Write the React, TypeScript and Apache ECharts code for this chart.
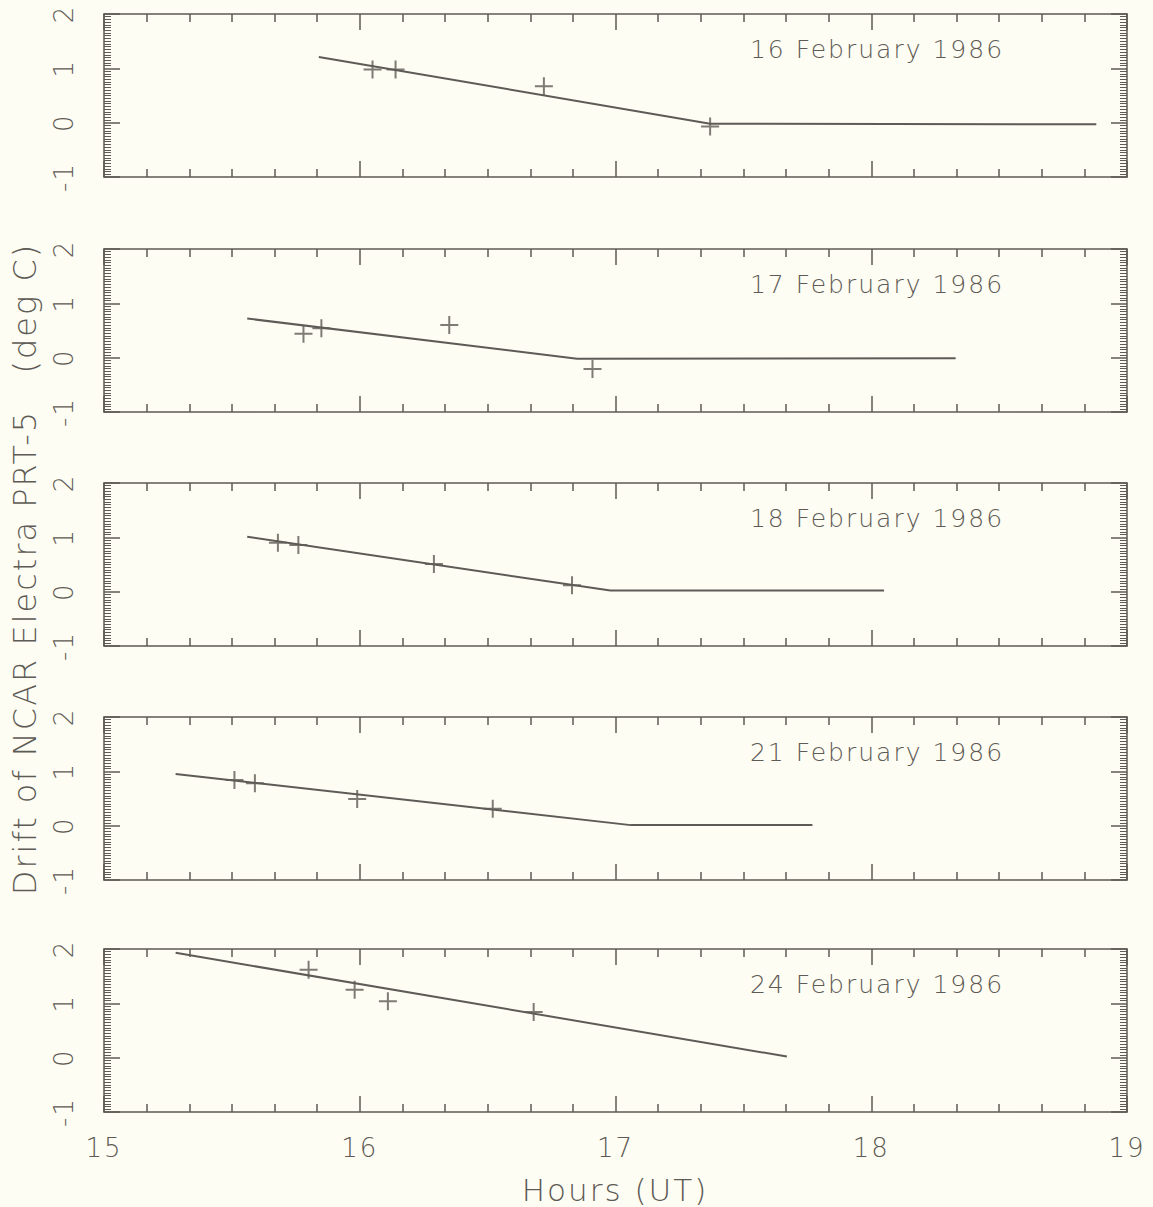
import React, { useEffect, useRef } from "react";
import * as echarts from "echarts";

// ---- data ----
const panelDates = [
  "16 February 1986",
  "17 February 1986",
  "18 February 1986",
  "21 February 1986",
  "24 February 1986",
];
const xTickValues = [15, 16, 17, 18, 19];
const yTickValues = [-1, 0, 1, 2];

// observed drift (hours UT, deg C)
const obs16 = [[16.05, 0.98], [16.14, 0.98], [16.72, 0.67], [17.37, -0.07]];
const obs17 = [[15.78, 0.44], [15.85, 0.54], [16.35, 0.6], [16.91, -0.21]];
const obs18 = [[15.68, 0.9], [15.76, 0.86], [16.29, 0.51], [16.83, 0.12]];
const obs21 = [[15.51, 0.84], [15.59, 0.78], [15.99, 0.49], [16.52, 0.31]];
const obs24 = [[15.8, 1.62], [15.98, 1.25], [16.11, 1.04], [16.68, 0.84]];

// fitted drift lines
const fit16 = [[15.84, 1.21], [17.37, -0.02], [18.88, -0.03]];
const fit17 = [[15.56, 0.72], [16.85, -0.02], [18.33, -0.01]];
const fit18 = [[15.56, 1.01], [16.98, 0.02], [18.05, 0.02]];
const fit21 = [[15.28, 0.95], [17.06, 0.01], [17.77, 0.01]];
const fit24 = [[15.28, 1.93], [17.67, 0.02]];

const observations = [obs16, obs17, obs18, obs21, obs24];
const fits = [fit16, fit17, fit18, fit21, fit24];

const xTitle = "Hours (UT)";
const yTitle = "Drift of NCAR Electra PRT-5   (deg C)";

export default function App() {
  const ref = useRef<HTMLDivElement>(null);

  useEffect(() => {
    if (!ref.current) return;
    const chart = echarts.init(ref.current, undefined, { renderer: "svg" });
    const ink = "#5e5a55";
    const bg = "#fdfdf3";
    const font = "DejaVu Sans";
    const tops = [14, 249, 483, 717, 949];
    const plotH = 163;
    const left = 104;
    const width = 1023;
    const xMin = xTickValues[0];
    const xMax = xTickValues[xTickValues.length - 1];
    const yMin = yTickValues[0];
    const yMax = yTickValues[yTickValues.length - 1];

    const lineStyle = { color: ink, width: 1.5 };

    const grid = tops.map((t) => ({ left, width, top: t, height: plotH, show: false }));

    const xAxis: any[] = [];
    const yAxis: any[] = [];
    tops.forEach((_, i) => {
      ["bottom", "top"].forEach((pos) => {
        xAxis.push({
          gridIndex: i,
          type: "value",
          position: pos,
          min: xMin,
          max: xMax,
          interval: 1,
          axisLine: { show: true, onZero: false, lineStyle },
          axisTick: { show: true, inside: true, length: 16, lineStyle },
          minorTick: { show: true, splitNumber: 6, length: 8, lineStyle },
          splitLine: { show: false },
          minorSplitLine: { show: false },
          axisLabel: {
            show: pos === "bottom" && i === tops.length - 1,
            margin: 23,
            fontSize: 26,
            fontFamily: font,
            fontWeight: 200,
            color: ink,
          },
        });
      });
      ["left", "right"].forEach((pos) => {
        yAxis.push({
          gridIndex: i,
          type: "value",
          position: pos,
          min: yMin,
          max: yMax,
          interval: 1,
          axisLine: { show: true, onZero: false, lineStyle },
          axisTick: { show: true, inside: true, length: 16, lineStyle },
          minorTick: { show: true, splitNumber: 20, length: 7, lineStyle: { color: ink, width: 1 } },
          splitLine: { show: false },
          minorSplitLine: { show: false },
          axisLabel: {
            show: pos === "left",
            rotate: 90,
            margin: 27,
            fontSize: 26,
            fontFamily: font,
            fontWeight: 200,
            color: ink,
          },
        });
      });
    });

    const series: any[] = [];
    tops.forEach((_, i) => {
      series.push({
        type: "line",
        xAxisIndex: 2 * i,
        yAxisIndex: 2 * i,
        data: fits[i],
        showSymbol: false,
        symbol: "none",
        lineStyle: { color: ink, width: 2 },
        silent: true,
      });
      series.push({
        type: "scatter",
        xAxisIndex: 2 * i,
        yAxisIndex: 2 * i,
        data: observations[i],
        symbol: "path://M10,0L10,20M0,10L20,10",
        symbolSize: 18,
        itemStyle: { color: "transparent", borderColor: ink, borderWidth: 2 },
        silent: true,
      });
    });

    const graphic: any[] = [];
    panelDates.forEach((d, i) => {
      graphic.push({
        type: "text",
        x: 877,
        y: tops[i] + 35,
        style: {
          text: d,
          fill: ink,
          fontSize: 25,
          fontFamily: font,
          fontWeight: 200,
          align: "center",
          verticalAlign: "middle",
        },
      });
    });
    graphic.push({
      type: "text",
      x: 615,
      y: 1190,
      style: {
        text: xTitle,
        fill: ink,
        fontSize: 31,
        fontFamily: font,
        fontWeight: 200,
        align: "center",
        verticalAlign: "middle",
      },
    });
    graphic.push({
      type: "text",
      x: 25,
      y: 569,
      rotation: Math.PI / 2,
      style: {
        text: yTitle,
        fill: ink,
        fontSize: 32,
        fontFamily: font,
        fontWeight: 200,
        align: "center",
        verticalAlign: "middle",
      },
    });

    chart.setOption({
      animation: false,
      backgroundColor: bg,
      grid,
      xAxis,
      yAxis,
      series,
      graphic,
    });
    return () => chart.dispose();
  }, []);

  return (
    <>
      <style>{"#root svg text{letter-spacing:2px;white-space:pre;}"}</style>
      <div
        ref={ref}
        style={{ position: "absolute", left: 0, top: 0, width: 1153, height: 1207, background: "#fdfdf3" }}
      />
    </>
  );
}
